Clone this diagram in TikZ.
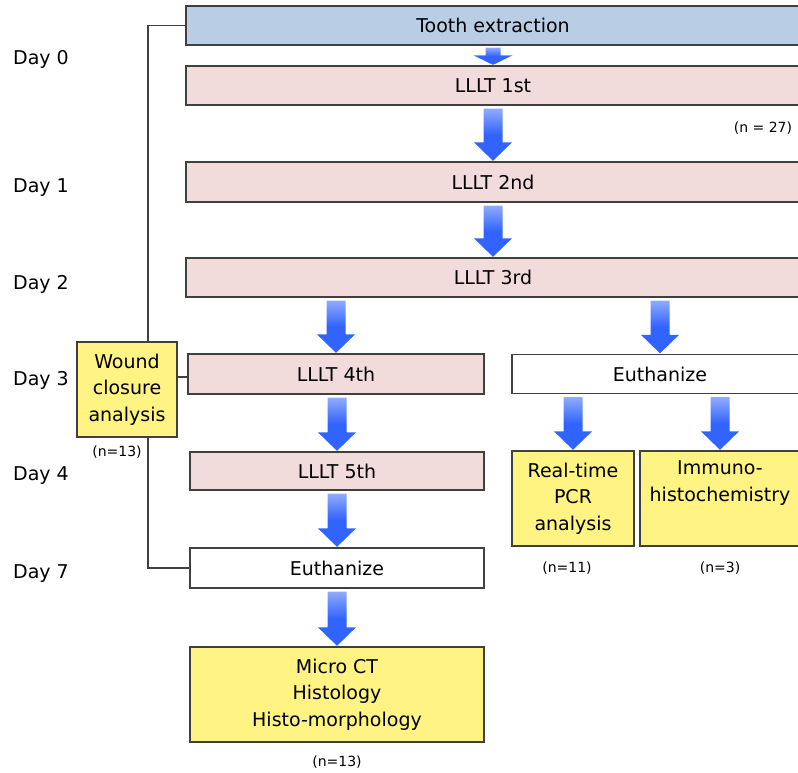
\documentclass[tikz,border=0pt]{standalone}
\usepackage{fontspec}
\setmainfont{DejaVu Sans}
\usetikzlibrary{calc,backgrounds}
\definecolor{bluebox}{HTML}{B9CDE5}
\definecolor{pinkbox}{HTML}{F2DCDB}
\definecolor{yellowbox}{HTML}{FFF383}
\definecolor{edge}{HTML}{404040}
\definecolor{ablue}{HTML}{3163FF}
\pgfdeclareverticalshading{arrowshade}{100bp}{color(0bp)=(ablue); color(50bp)=(ablue); color(100bp)=(ablue!8!white)}
\newcommand{\blockarrow}[2]{%
 \shade[shading=arrowshade] let \p1=(#2.north), \p2=(#1.south) in
 (\x1-9.5pt,\y2-3pt) -- (\x1+9.5pt,\y2-3pt) -- (\x1+9.5pt,\y1+19pt) -- (\x1+19pt,\y1+19pt) -- (\x1,\y1+0.5pt) -- (\x1-19pt,\y1+19pt) -- (\x1-9.5pt,\y1+19pt) -- cycle;}
\tikzset{
 box/.style={draw=edge, line width=1.3pt, inner sep=0pt, font=\fontsize{19}{26.5}\selectfont, text=black, align=center},
 wide/.style={box, minimum width=614pt, minimum height=39pt},
 half/.style={box, minimum width=295pt, minimum height=39pt},
 tall/.style={minimum height=95pt},
 daylbl/.style={anchor=base west, inner sep=0pt, font=\fontsize{19}{23}\selectfont},
 nlbl/.style={inner sep=0pt, font=\fontsize{14}{17}\selectfont}
}
\begin{document}
\begin{tikzpicture}[x=1pt,y=-1pt]
\useasboundingbox (0,0) rectangle (798,773);
\clip (0,0) rectangle (798,773);
% boxes
\node[wide, fill=bluebox] (tooth) at (493,25.5) {Tooth extraction};
\node[wide, fill=pinkbox] (l1) at (493,85.5) {LLLT 1st};
\node[wide, fill=pinkbox, minimum height=40pt] (l2) at (493,182) {LLLT 2nd};
\node[wide, fill=pinkbox] (l3) at (493,277.5) {LLLT 3rd};
\node[half, fill=pinkbox, minimum width=296pt, minimum height=40pt] (l4) at (336,374) {LLLT 4th};
\node[half, fill=white, minimum width=296pt, minimum height=39pt] (eu1) at (660,374) {Euthanize};
\node[box, fill=yellowbox, minimum width=100pt, tall] (wound) at (127,389.5) {Wound\\closure\\analysis};
\node[half, fill=pinkbox, minimum width=294pt, minimum height=38pt] (l5) at (337,471) {LLLT 5th};
\node[box, fill=yellowbox, minimum width=122pt, tall] (pcr) at (573,498.5) {Real-time\\PCR\\analysis};
\node[box, fill=yellowbox, minimum width=160pt, tall] (imm) at (720,498.5) {Immuno-\\histochemistry\\\strut};
\node[half, fill=white, minimum width=294pt, minimum height=40pt] (eu2) at (337,568) {Euthanize};
\node[box, fill=yellowbox, minimum width=294pt, tall] (micro) at (337,694.5) {Micro CT\\Histology\\Histo-morphology};
% n labels
\node[nlbl] (n27) at (763,128) {(n = 27)};
\node[nlbl] (nw) at (117,452) {(n=13)};
\node[nlbl] (n11) at (567,568) {(n=11)};
\node[nlbl] (n3) at (720,568) {(n=3)};
\node[nlbl] (nm) at (337,762) {(n=13)};
% day labels
\node[daylbl] (d0) at (13,65) {Day 0};
\node[daylbl] (d1) at (13,193) {Day 1};
\node[daylbl] (d2) at (13,289) {Day 2};
\node[daylbl] (d3) at (13,385) {Day 3};
\node[daylbl] (d4) at (13,480) {Day 4};
\node[daylbl] (d7) at (13,578) {Day 7};
% bracket
\coordinate (bx) at (148,0);
\coordinate (wy) at (0,377);
\begin{pgfonlayer}{background}
\draw[edge, line width=1.3pt] (tooth.west) -| (bx |- eu2.west) -- (eu2.west);
\end{pgfonlayer}
\draw[edge, line width=1.3pt] (wound.east |- wy) -- (l4.west |- wy);
% arrows
\shade[shading=arrowshade] let \p1=(l1.north), \p2=(tooth.south) in
 (\x1-7.5pt,\y2-2pt) -- (\x1+7.5pt,\y2-2pt) -- (\x1+7.5pt,\y1+10pt) -- (\x1+19.5pt,\y1+10pt) -- (\x1,\y1+0.5pt) -- (\x1-19.5pt,\y1+10pt) -- (\x1-7.5pt,\y1+10pt) -- cycle;
\blockarrow{l1}{l2}
\blockarrow{l2}{l3}
\blockarrow{l3}{l4}
\blockarrow{l3}{eu1}
\blockarrow{l4}{l5}
\blockarrow{l5}{eu2}
\blockarrow{eu1}{pcr}
\blockarrow{eu1}{imm}
\blockarrow{eu2}{micro}
\end{tikzpicture}
\end{document}
